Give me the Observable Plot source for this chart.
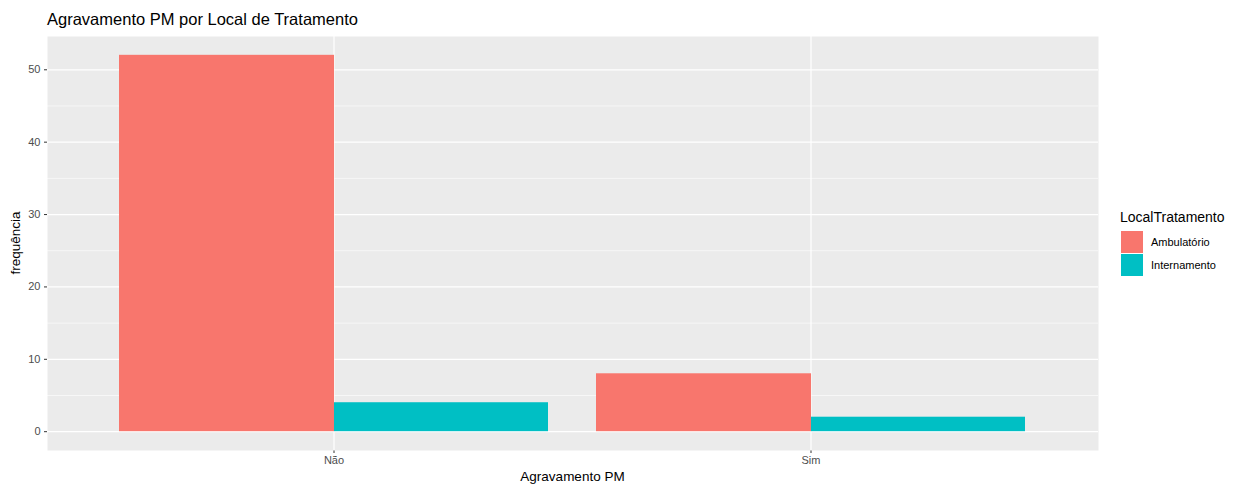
<!DOCTYPE html>
<html>
<head>
<meta charset="utf-8">
<script src="https://cdn.jsdelivr.net/npm/d3@7"></script>
<script src="https://cdn.jsdelivr.net/npm/@observablehq/plot@0.6"></script>
<style>
  html, body { margin: 0; padding: 0; background: #fff; }
  #wrap { position: relative; width: 1236px; height: 484px; font-family: "Liberation Sans", Arial, sans-serif; }
  #wrap svg { position: absolute; left: 0; top: 30px; }
  .txt { position: absolute; white-space: nowrap; line-height: 1; }
</style>
</head>
<body>
<div id="wrap"></div>
<script>
// ---- data ----
const categorias = ["Não", "Sim"];
const locais = ["Ambulatório", "Internamento"];
const ambulatorio = [52, 8];
const internamento = [4, 2];
const yTicks = [0, 10, 20, 30, 40, 50];
const yMinor = [5, 15, 25, 35, 45];
const cores = ["#F8766D", "#00BFC4"];

const titulo = "Agravamento PM por Local de Tratamento";
const xTitulo = "Agravamento PM";
const yTitulo = "frequência";
const legendaTitulo = "LocalTratamento";

const dados = [];
categorias.forEach((c, i) => {
  dados.push({agravamento: c, local: locais[0], freq: ambulatorio[i]});
  dados.push({agravamento: c, local: locais[1], freq: internamento[i]});
});

// ---- layout ----
const W = 1236, H = 454;
const mL = 47, mR = 138, mT = 6, mB = 34;
const xOpts = {type: "band", domain: categorias, paddingInner: 0.1, paddingOuter: 0.15, range: [mL, W - mR]};
const bw = Plot.scale({x: xOpts}).bandwidth;
const maxV = d3.max(dados, d => d.freq);
const colorScale = Plot.scale({color: {domain: locais, range: cores}});

const chart = Plot.plot({
  width: W, height: H,
  marginLeft: mL, marginRight: mR, marginTop: mT, marginBottom: mB,
  style: {fontFamily: '"Liberation Sans", Arial, sans-serif', fontSize: "11px", color: "#4D4D4D", background: "transparent", overflow: "visible"},
  x: {type: "band", domain: categorias, paddingInner: 0.1, paddingOuter: 0.15, label: null, tickSize: 3, tickPadding: 3},
  y: {domain: [-maxV * 0.05, maxV * 1.05], ticks: yTicks, tickSize: 3, tickPadding: 4, label: null},
  color: {domain: locais, range: cores},
  marks: [
    Plot.frame({fill: "#EBEBEB", stroke: null}),
    Plot.ruleY(yMinor, {stroke: "#fff", strokeWidth: 0.6}),
    Plot.ruleY(yTicks, {stroke: "#fff", strokeWidth: 1.2}),
    Plot.ruleX(categorias, {x: d => d, stroke: "#fff", strokeWidth: 1.2}),
    Plot.barY(dados.filter(d => d.local === locais[0]), {x: "agravamento", y: "freq", fill: "local", insetRight: bw / 2 - 1}),
    Plot.barY(dados.filter(d => d.local === locais[1]), {x: "agravamento", y: "freq", fill: "local", insetLeft: bw / 2})
  ]
});
d3.select(chart).selectAll("[aria-label='x-axis tick'] path, [aria-label='y-axis tick'] path, [aria-label='x-axis'] line, [aria-label='y-axis'] line").attr("stroke", "#333");

const wrap = document.getElementById("wrap");
wrap.appendChild(chart);

function addText(t, css) {
  const d = document.createElement("div");
  d.className = "txt";
  d.textContent = t;
  Object.assign(d.style, css);
  wrap.appendChild(d);
  return d;
}
addText(titulo, {left: "47px", top: "11px", fontSize: "16.5px", color: "#000"});
addText(xTitulo, {left: ((mL + W - mR) / 2) + "px", top: "470px", fontSize: "13.5px", color: "#000", transform: "translateX(-50%)"});
addText(yTitulo, {left: "16px", top: (30 + (mT + H - mB) / 2) + "px", fontSize: "13.5px", color: "#000", transform: "translate(-50%, -50%) rotate(-90deg)"});

// legend
addText(legendaTitulo, {left: "1120px", top: "210px", fontSize: "14px", color: "#000"});
locais.forEach((l, i) => {
  const sw = document.createElement("div");
  Object.assign(sw.style, {position: "absolute", left: "1121px", top: (231 + i * 23) + "px", width: "22px", height: "22px", background: colorScale.apply(l)});
  wrap.appendChild(sw);
  addText(l, {left: "1151px", top: (242 + i * 23) + "px", fontSize: "11px", color: "#000", transform: "translateY(-50%)"});
});
</script>
</body>
</html>
